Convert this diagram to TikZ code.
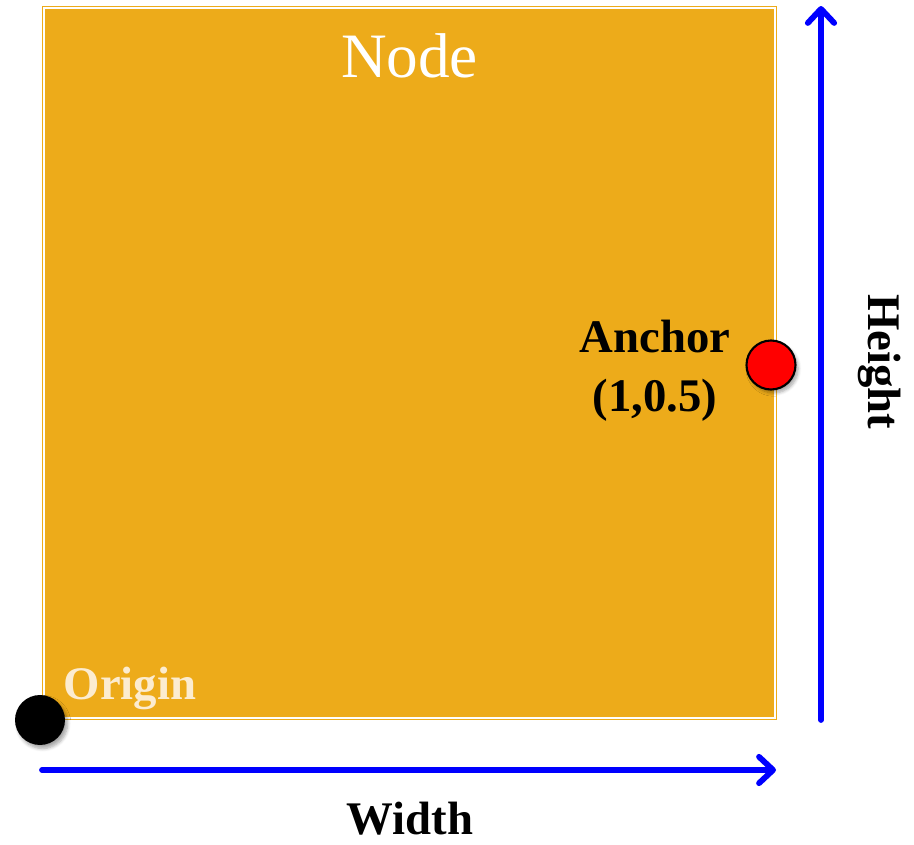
\documentclass[tikz,border=0pt]{standalone}
\usepackage{fontspec}
\setmainfont{Liberation Serif}
\usepackage{xcolor}
\usepackage{tikz}
\usetikzlibrary{calc}
\usetikzlibrary{arrows.meta,shadows.blur}

\definecolor{nodegold}{RGB}{237,171,26}
\definecolor{origincream}{RGB}{252,236,208}

\tikzset{
  nodebox/.style={rectangle,fill=nodegold,draw=nodegold,double=white,
    line width=0.6pt,double distance=1.2pt,inner sep=0pt,outer sep=0pt,
    minimum width=14.62cm,minimum height=14.2cm},
  dimarrow/.style={blue,line width=3.3pt,line cap=round,line join=round,
    -{Straight Barb[length=8pt,width=15pt,line cap=round,line join=round]}},
  dot/.style={circle,inner sep=0pt,outer sep=0pt,
    blur shadow={shadow xshift=1.5pt,shadow yshift=-2pt,shadow blur steps=6,shadow opacity=35}},
  biglabel/.style={font=\bfseries\fontsize{26.6}{33.5}\selectfont,align=center}
}

\begin{document}
\begin{tikzpicture}[x=0.02cm,y=-0.02cm]
\useasboundingbox (0,0) rectangle (914,845);

% Node region
\node[nodebox] (node) at (409.5,363) {};
\node[white,font=\fontsize{36}{40}\selectfont] (nodetext) at (409.5,56) {Node};

% Origin
\node[dot,fill=black,minimum size=1cm] (origin) at (40,720) {};
\node[biglabel,text=origincream] (origintext) at (130,688) {Origin};

% Anchor
\node[dot,fill=red,draw=black,line width=1.2pt,minimum size=0.98cm] (anchor) at (771,365) {};
\node[biglabel] (anchortext) at (655,371) {Anchor\\(1,0.5)};

% Dimensions
\coordinate (w0) at (42,770);
\coordinate (w1) at (776,770);
\coordinate (h0) at (821,720);
\coordinate (h1) at (821,6);
\draw[dimarrow] (w0) -- (w1);
\draw[dimarrow] (h0) -- (h1);
\node[biglabel,inner sep=0.5pt] (widthtext) at (410,819) {Width};
\node[biglabel,rotate=-90] (heighttext) at (880,362) {Height};
\end{tikzpicture}
\end{document}
